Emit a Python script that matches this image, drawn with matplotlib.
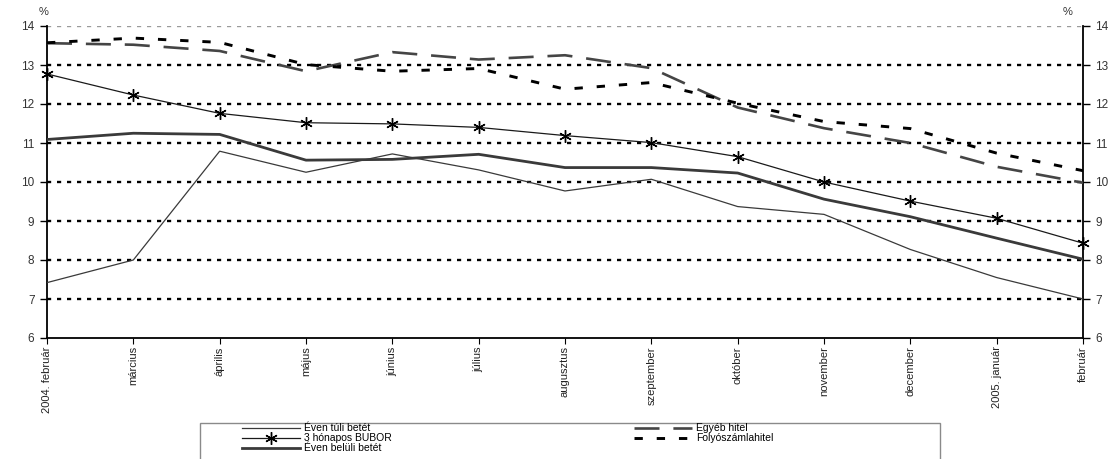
import matplotlib
matplotlib.use("Agg")
import matplotlib.pyplot as plt
from matplotlib.patches import Rectangle

# Monthly interest rates, %
months = ["2004. február", "március", "április", "május", "június", "július",
          "augusztus", "szeptember", "október", "november", "december",
          "2005. január", "február"]
even_tuli_betet = [7.42, 8.00, 10.79, 10.25, 10.72, 10.31, 9.77, 10.07, 9.37, 9.17, 8.27, 7.55, 7.00]
bubor_3m = [12.77, 12.23, 11.76, 11.52, 11.49, 11.40, 11.19, 11.01, 10.65, 10.00, 9.51, 9.07, 8.43]
even_beluli_betet = [11.09, 11.25, 11.22, 10.56, 10.58, 10.71, 10.37, 10.37, 10.23, 9.56, 9.11, 8.56, 8.02]
egyeb_hitel = [13.56, 13.52, 13.36, 12.84, 13.33, 13.14, 13.25, 12.92, 11.91, 11.38, 11.00, 10.39, 9.98]
folyoszamlahitel = [13.57, 13.69, 13.58, 13.01, 12.84, 12.91, 12.38, 12.55, 12.02, 11.55, 11.37, 10.74, 10.29]
y_ticks = [6, 7, 8, 9, 10, 11, 12, 13, 14]
series_labels = ["Éven túli betét", "3 hónapos BUBOR", "Éven belüli betét",
                 "Egyéb hitel", "Folyószámlahitel"]

plt.rcParams['font.family'] = ['Liberation Sans', 'DejaVu Sans']
plt.rcParams['lines.scale_dashes'] = False

W, H = 1120, 459
fig = plt.figure(figsize=(W / 100, H / 100), dpi=100)
ax = fig.add_axes([47 / W, 1 - 338 / H, (1083 - 47) / W, (338 - 26) / H])

x = list(range(len(months)))
ax.set_xlim(0, len(months) - 1)
ax.set_ylim(y_ticks[0], y_ticks[-1])

# horizontal dotted grid
for yv in y_ticks[1:-1]:
    ax.axhline(yv, color='black', lw=1.7, dashes=(3, 4.2), zorder=1)
ax.axhline(y_ticks[-1], color='#9a9a9a', lw=1.7, dashes=(3, 4.2), zorder=1)

l1, = ax.plot(x, even_tuli_betet, color='#3a3a3a', lw=0.9, zorder=3)
l2, = ax.plot(x, bubor_3m, color='#1a1a1a', lw=0.9, marker=(6, 2, 0),
              ms=9, mew=1.0, mec='black', zorder=4, clip_on=False)
l3, = ax.plot(x, even_beluli_betet, color='#3a3a3a', lw=2.0, zorder=3)
l4, = ax.plot(x, egyeb_hitel, color='#454545', lw=1.9, dashes=(18, 10), zorder=3)
l5, = ax.plot(x, folyoszamlahitel, color='black', lw=2.1, dashes=(6, 10), zorder=3)

ax.set_yticks(y_ticks, [str(v) for v in y_ticks])
ax.set_xticks(x, months, rotation=90)
ax.tick_params(axis='y', left=True, right=True, labelleft=True, labelright=True,
               direction='out', length=5, width=1, labelsize=8.5,
               labelcolor='#333333', pad=4)
ax.tick_params(axis='x', direction='out', length=4, width=0.8, labelsize=8,
               labelcolor='#222222', pad=2)
ax.spines['top'].set_visible(False)
for side in ('left', 'right', 'bottom'):
    ax.spines[side].set_linewidth(1.3)
    ax.spines[side].set_color('black')

fig.text(44 / W, 1 - 12 / H, '%', ha='center', va='center', fontsize=8, color='#333333')
fig.text(1068 / W, 1 - 12 / H, '%', ha='center', va='center', fontsize=8, color='#333333')

# legend frame and entries
fig.patches.append(Rectangle((200 / W, -0.02), (940 - 200) / W, 0.02 + (459 - 423) / H,
                             transform=fig.transFigure, fill=False,
                             edgecolor='#8a8a8a', lw=1.0))
leg = fig.legend([l1, l2, l3, l4, l5], series_labels, ncol=2, loc='upper left',
                 bbox_to_anchor=(242 / W, 1 - 423 / H), frameon=False,
                 fontsize=7.5, labelspacing=0.0, handlelength=5.6,
                 handleheight=0.5, handletextpad=0.4, columnspacing=23.2,
                 borderpad=0, borderaxespad=0)

fig.savefig("out.png", dpi=100)
